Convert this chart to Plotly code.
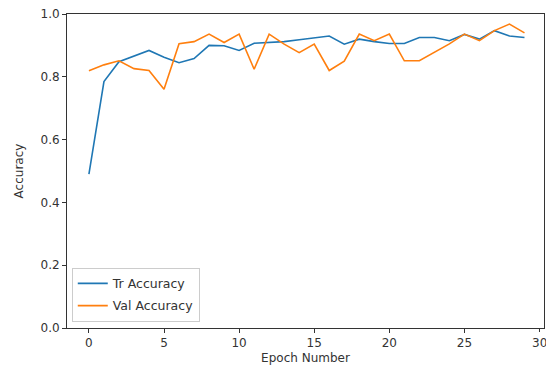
import plotly.graph_objects as go

epochs = list(range(30))
tr_acc = [0.49, 0.785, 0.848, 0.866, 0.884, 0.862, 0.845, 0.858, 0.900, 0.899,
          0.884, 0.907, 0.910, 0.912, 0.918, 0.925, 0.930, 0.904, 0.920, 0.912,
          0.906, 0.906, 0.925, 0.925, 0.915, 0.935, 0.920, 0.947, 0.930, 0.925]
val_acc = [0.819, 0.838, 0.851, 0.826, 0.820, 0.760, 0.905, 0.912, 0.936, 0.909,
           0.936, 0.824, 0.936, 0.904, 0.877, 0.904, 0.820, 0.850, 0.936, 0.915,
           0.936, 0.851, 0.851, 0.877, 0.905, 0.936, 0.915, 0.947, 0.968, 0.940]
x_ticks = [0, 5, 10, 15, 20, 25, 30]
y_ticks = [0.0, 0.2, 0.4, 0.6, 0.8, 1.0]

fig = go.Figure()
fig.add_trace(go.Scatter(x=epochs, y=tr_acc, mode="lines", name="Tr Accuracy",
                         legendgroup="tr",
                         line=dict(color="#1f77b4", width=1.6)))
fig.add_trace(go.Scatter(x=epochs, y=val_acc, mode="lines", name="Val Accuracy",
                         legendgroup="val",
                         line=dict(color="#ff7f0e", width=1.6)))

axis_common = dict(showgrid=False, zeroline=False, showline=True, linecolor="#333",
                   linewidth=1, mirror=True, ticks="outside", ticklen=4,
                   tickcolor="#333", tickfont=dict(size=12, color="#333"))

fig.update_layout(
    width=546, height=376,
    margin=dict(l=67, r=2, t=14, b=48),
    paper_bgcolor="white", plot_bgcolor="white",
    font=dict(family="DejaVu Sans", size=12, color="#333"),
    xaxis=dict(range=[-1.46, 30.3], tickvals=x_ticks[:-1],
               ticktext=[str(v) for v in x_ticks[:-1]],
               title=dict(text="Epoch Number", font=dict(size=12), standoff=4),
               **axis_common),
    yaxis=dict(range=[0, 1], tickvals=y_ticks,
               ticktext=[f"{v:.1f}" for v in y_ticks],
               title=dict(text="Accuracy", font=dict(size=12), standoff=14),
               **axis_common),
    legend=dict(x=0.01, y=0.02, xanchor="left", yanchor="bottom",
                bgcolor="rgba(255,255,255,0.8)", bordercolor="#ccc", borderwidth=1,
                font=dict(size=12.5, color="#333"), tracegroupgap=3),
    showlegend=True,
)

# last tick (30) at the right edge: tick mark + label placed through the x axis scale
fig.add_shape(type="line", xref="x", yref="paper", x0=x_ticks[-1], x1=x_ticks[-1],
              y0=0, y1=-4 / 314, line=dict(color="#333", width=1))
fig.add_annotation(xref="x", yref="paper", x=x_ticks[-1], y=0, yshift=-6,
                   text=str(x_ticks[-1]), showarrow=False, yanchor="top",
                   xanchor="center", font=dict(size=12, color="#333"))

fig.write_html("out.html")
